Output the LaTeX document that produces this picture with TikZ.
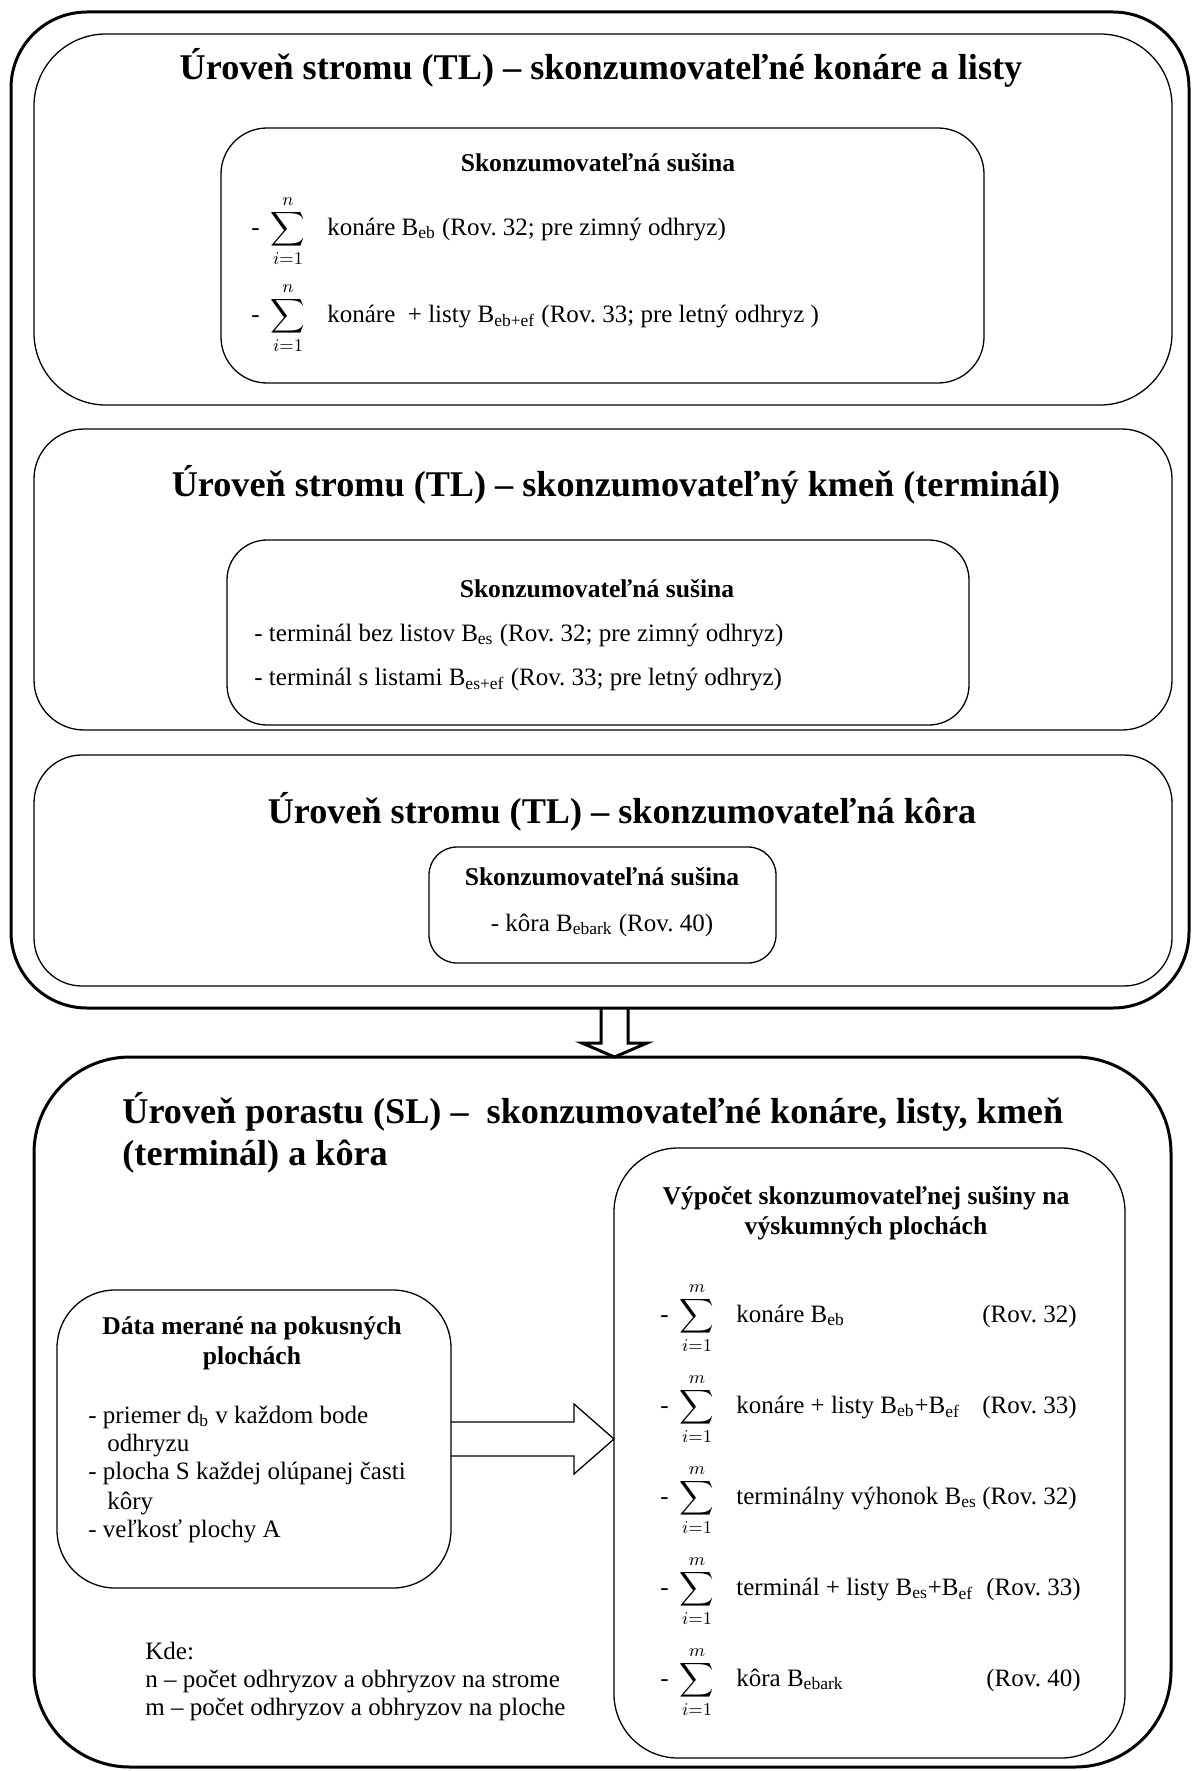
\documentclass[tikz,border=0pt]{standalone}
\usepackage{fontspec}
\setmainfont{Liberation Serif}
\usepackage{amsmath}
\usetikzlibrary{positioning,calc}

\newcommand{\sumrow}[2]{-\hspace{5.5pt}$\displaystyle\sum_{i=1}^{#1}$\hspace{11pt}#2}
\tikzset{
  heavybox/.style={line width=1.5pt, rounded corners=#1},
  lightbox/.style={line width=0.65pt, rounded corners=#1},
  leveltitle/.style={inner sep=0pt, anchor=base, font=\fontsize{18.1}{21}\selectfont\bfseries},
  standtitle/.style={inner sep=0pt, anchor=base west, font=\fontsize{18.1}{21}\selectfont\bfseries},
  boxhead/.style={inner sep=0pt, anchor=base, font=\fontsize{12.8}{15}\selectfont\bfseries},
  boxitem/.style={inner sep=0pt, anchor=base west, font=\fontsize{12.5}{15}\selectfont},
  boxref/.style={inner sep=0pt, anchor=base east, font=\fontsize{12.5}{15}\selectfont}
}

\begin{document}
\frenchspacing
\begin{tikzpicture}[x=0.5pt,y=-0.5pt]
  \useasboundingbox (0,0) rectangle (1196,1771);

  % tree level
  \draw[heavybox=38pt] (11,12) rectangle (1189,1008);
  \draw[lightbox=36pt] (34,34) rectangle (1172,405);
  \node[leveltitle] (treeA) at (601,80) {Úroveň stromu (TL) – skonzumovateľné konáre a listy};
  \draw[lightbox=23pt] (221,128) rectangle (984,383);
  \node[boxhead] (dryA) at (598,172) {Skonzumovateľná sušina};
  \node[boxitem] (branchA) at (251,235) {\sumrow{n}{konáre B\textsubscript{eb} (Rov. 32; pre zimný odhryz)}};
  \node[boxitem] (branchB) at (251,322) {\sumrow{n}{konáre~ + listy B\textsubscript{eb+ef} (Rov. 33; pre letný odhryz~)}};

  \draw[lightbox=25pt] (34,429) rectangle (1172,730);
  \node[leveltitle] (treeB) at (616,496) {Úroveň stromu (TL) – skonzumovateľný kmeň (terminál)};
  \draw[lightbox=20pt] (227,540) rectangle (969,725);
  \node[boxhead] (dryB) at (597,597) {Skonzumovateľná sušina};
  \node[boxitem] (shootA) at (254,641) {- terminál bez listov B\textsubscript{es} (Rov. 32; pre zimný odhryz)};
  \node[boxitem] (shootB) at (254,685) {- terminál s listami B\textsubscript{es+ef} (Rov. 33; pre letný odhryz)};

  \draw[lightbox=24pt] (34,755) rectangle (1172,986);
  \node[leveltitle] (treeC) at (622,823) {Úroveň stromu (TL) – skonzumovateľná kôra};
  \draw[lightbox=14pt] (429,847) rectangle (776,963);
  \node[boxhead] (dryC) at (602,885) {Skonzumovateľná sušina};
  \node[boxhead, font=\fontsize{12.5}{15}\selectfont] (barkA) at (602,931) {- kôra B\textsubscript{ebark} (Rov. 40)};

  % arrow down
  \coordinate (treeFoot) at (614.5,1008);
  \coordinate (standHead) at (614.5,1057);
  \draw[line width=1.5pt] ($(treeFoot)+(-13.5,0)$) -- ++(0,35) -- ++(-19,0) -- (standHead)
    -- ++(32.5,-14) -- ++(-19,0) -- ($(treeFoot)+(13.5,0)$);

  % stand level
  \draw[heavybox=48pt] (34,1057) rectangle (1171,1767);
  \node[standtitle] (standA) at (122,1123) {Úroveň porastu (SL) –~ skonzumovateľné konáre, listy, kmeň};
  \node[standtitle] (standB) at (122,1165) {(terminál) a kôra};

  \draw[lightbox=29pt] (57,1290) rectangle (451,1588);
  \node[boxhead] (dataA) at (252,1334) {Dáta merané na pokusných};
  \node[boxhead] (dataB) at (252,1364) {plochách};
  \node[boxitem] (measA) at (88,1423) {- priemer d\textsubscript{b} v každom bode};
  \node[boxitem] (measB) at (107,1451) {odhryzu};
  \node[boxitem] (measC) at (88,1479) {- plocha S každej olúpanej časti};
  \node[boxitem] (measD) at (107,1509) {kôry};
  \node[boxitem] (measE) at (88,1537) {- veľkosť plochy A};

  \node[boxitem] (whereA) at (145,1659) {Kde:};
  \node[boxitem] (whereB) at (145,1687) {n – počet odhryzov a obhryzov na strome};
  \node[boxitem] (whereC) at (145,1715) {m – počet odhryzov a obhryzov na ploche};

  % arrow right
  \coordinate (dataEnd) at (451,1439);
  \coordinate (calcStart) at (614,1439);
  \draw[line width=0.65pt] ($(dataEnd)+(0,-17)$) -- ++(123,0) -- ++(0,-18) -- (calcStart)
    -- ++(-40,35) -- ++(0,-18) -- ($(dataEnd)+(0,17)$);

  \draw[lightbox=32pt] (614,1148) rectangle (1125,1758);
  \node[boxhead] (calcA) at (866,1204) {Výpočet skonzumovateľnej sušiny na};
  \node[boxhead] (calcB) at (866,1234) {výskumných plochách};
  \node[boxitem] (rowA) at (660,1322) {\sumrow{m}{konáre B\textsubscript{eb}}};
  \node[boxref] (refA) at (1077,1322) {(Rov. 32)};
  \node[boxitem] (rowB) at (660,1413) {\sumrow{m}{konáre + listy B\textsubscript{eb}+B\textsubscript{ef}}};
  \node[boxref] (refB) at (1077,1413) {(Rov. 33)};
  \node[boxitem] (rowC) at (660,1504) {\sumrow{m}{terminálny výhonok B\textsubscript{es}}};
  \node[boxref] (refC) at (1077,1504) {(Rov. 32)};
  \node[boxitem] (rowD) at (660,1595) {\sumrow{m}{terminál + listy B\textsubscript{es}+B\textsubscript{ef}}};
  \node[boxref] (refD) at (1081,1595) {(Rov. 33)};
  \node[boxitem] (rowE) at (660,1686) {\sumrow{m}{kôra B\textsubscript{ebark}}};
  \node[boxref] (refE) at (1081,1686) {(Rov. 40)};
\end{tikzpicture}
\end{document}
